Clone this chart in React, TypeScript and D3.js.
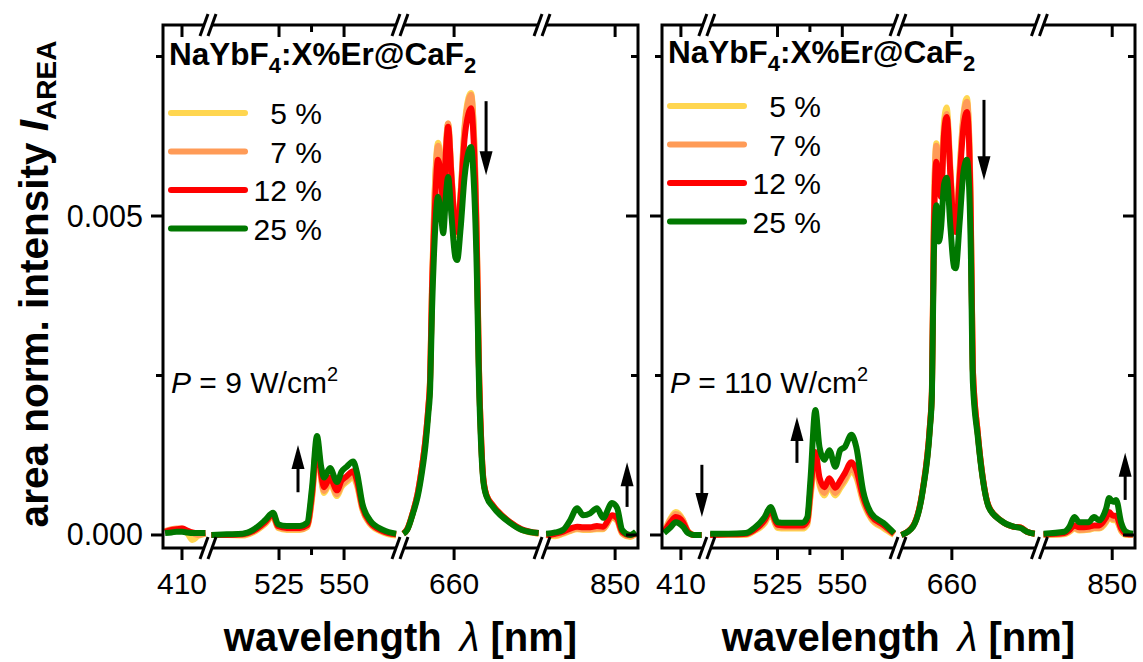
import React from "react";
import * as d3 from "d3";

// ---------- axis definitions ----------
const SEG_BOUNDS: [number, number][] = [
  [402.7, 420],
  [497.7, 571.5],
  [639.2, 693.8],
  [821.9, 858.8],
];
const X_TICKS = [410, 525, 550, 660, 850];
const X_MINOR = [537.5];
const Y_TICKS = [0, 0.005];
const Y_TICK_LABELS = ["0.000", "0.005"];
const Y_MINOR = [0.0025, 0.0075];
const Y_DOMAIN: [number, number] = [-0.000204, 0.007994];

const SERIES_LABELS = ["5 %", "7 %", "12 %", "25 %"];
const SERIES_COLORS = ["#FFD650", "#FF9B57", "#FF0000", "#007800"];

// ---------- P = 9 W/cm2 (values in 1e-3) ----------
const WL_P9 = [
  403.5, 406, 408, 410, 412, 414, 416, 419,
  499, 505, 511, 515, 519.6, 522.7, 524.6, 528, 533, 535.8, 537.7, 539.6, 541.2, 542.3, 544.6, 547.3, 549, 551, 553.5, 555, 557, 560, 565, 570,
  640.5, 642, 644.2, 646, 647.6, 649, 650.1, 650.8, 651.5, 652.5, 653.8, 655, 655.8, 657, 657.7, 659, 660.5, 661.2, 662.5, 664, 665.5, 666.5, 667.5, 668.8, 669.5, 670.5, 671.2, 672.5, 675, 681.5, 686, 692.5,
  823.5, 827, 830, 832.7, 835.4, 837.7, 840.4, 843, 845.4, 848.8, 850.8, 852.7, 855.8, 858,
];
const P9_5 = [
  0.06, 0.08, 0.09, 0.08, 0.03, -0.08, -0.02, 0.02,
  0.0, 0.0, -0.01, 0.04, 0.17, 0.29, 0.11, 0.08, 0.08, 0.12, 0.57, 1.4, 0.87, 0.66, 0.81, 0.61, 0.75, 0.83, 0.9, 0.77, 0.4, 0.17, 0.04, -0.01,
  0.02, 0.09, 0.36, 0.65, 1.05, 1.5, 2.0, 2.5, 3.9, 5.35, 6.15, 5.8, 5.3, 6.2, 6.45, 5.65, 4.8, 4.7, 5.35, 6.4, 6.85, 6.93, 6.45, 4.5, 2.75, 1.4, 0.9, 0.62, 0.46, 0.2, 0.08, 0.02,
  0.0, -0.02, 0.02, 0.06, 0.09, 0.08, 0.08, 0.09, 0.09, 0.27, 0.22, 0.02, -0.03, 0.02,
];
const P9_7 = [
  0.06, 0.09, 0.1, 0.1, 0.06, 0.03, 0.0, 0.02,
  0.0, 0.0, 0.0, 0.05, 0.18, 0.3, 0.12, 0.09, 0.09, 0.13, 0.6, 1.42, 0.9, 0.69, 0.84, 0.64, 0.78, 0.86, 0.94, 0.8, 0.42, 0.18, 0.05, 0.0,
  0.02, 0.09, 0.36, 0.65, 1.05, 1.5, 2.0, 2.5, 3.9, 5.3, 6.1, 5.75, 5.3, 6.2, 6.45, 5.65, 4.8, 4.7, 5.35, 6.35, 6.8, 6.9, 6.4, 4.5, 2.75, 1.4, 0.9, 0.62, 0.46, 0.2, 0.08, 0.02,
  0.0, 0.0, 0.03, 0.07, 0.1, 0.09, 0.09, 0.1, 0.1, 0.28, 0.23, 0.03, -0.02, 0.02,
];
const P9_12 = [
  0.05, 0.08, 0.09, 0.1, 0.07, 0.04, 0.03, 0.03,
  0.0, 0.0, 0.01, 0.06, 0.2, 0.32, 0.14, 0.11, 0.11, 0.15, 0.65, 1.45, 0.95, 0.75, 0.9, 0.7, 0.85, 0.92, 1.0, 0.85, 0.45, 0.2, 0.06, 0.01,
  0.02, 0.09, 0.36, 0.65, 1.05, 1.5, 2.0, 2.45, 3.8, 5.0, 5.88, 5.6, 5.2, 6.1, 6.4, 5.6, 4.8, 4.75, 5.3, 6.2, 6.6, 6.69, 6.2, 4.4, 2.7, 1.4, 0.9, 0.62, 0.46, 0.2, 0.09, 0.03,
  0.0, 0.02, 0.05, 0.1, 0.13, 0.12, 0.12, 0.14, 0.13, 0.31, 0.26, 0.05, 0.0, 0.03,
];
const P9_25 = [
  0.03, 0.04, 0.05, 0.05, 0.04, 0.03, 0.03, 0.03,
  0.0, 0.01, 0.02, 0.08, 0.23, 0.35, 0.17, 0.14, 0.14, 0.19, 0.75, 1.55, 1.07, 0.9, 1.05, 0.83, 0.99, 1.07, 1.15, 0.97, 0.5, 0.23, 0.08, 0.02,
  0.02, 0.08, 0.34, 0.6, 0.97, 1.4, 1.9, 2.3, 3.5, 4.6, 5.3, 5.0, 4.73, 5.4, 5.61, 5.0, 4.35, 4.31, 4.8, 5.6, 6.0, 6.08, 5.6, 4.0, 2.5, 1.3, 0.86, 0.6, 0.44, 0.19, 0.08, 0.03,
  0.02, 0.04, 0.08, 0.23, 0.42, 0.31, 0.34, 0.42, 0.27, 0.5, 0.42, 0.08, 0.0, 0.05,
];

// ---------- P = 110 W/cm2 (values in 1e-3) ----------
const WL_P110 = [
  403.5, 406, 408, 410.8, 412.7, 415, 418,
  499, 506, 512.7, 516, 520, 522.3, 525, 528, 534.6, 536.5, 537.7, 539.6, 541.2, 543.1, 545, 547.3, 549.2, 551, 553.5, 555.4, 558, 561.2, 565.8, 570,
  640.5, 645, 648.8, 651.5, 652.3, 653, 654, 655, 655.8, 657, 658, 659.5, 660.8, 661.5, 663, 664.5, 665.8, 666.5, 667.3, 668.1, 670, 672, 674.2, 678.8, 683.8, 686.5, 689, 692,
  823.5, 831.5, 833.5, 835.4, 837.3, 840.8, 843, 845, 847.7, 848.8, 850.4, 851.5, 853.5, 855.4, 858,
];
const P110_5 = [
  0.05, 0.26, 0.36, 0.24, 0.06, 0.0, 0.0,
  0.0, 0.0, 0.0, 0.06, 0.18, 0.33, 0.11, 0.1, 0.1, 0.16, 0.58, 1.15, 0.78, 0.62, 0.76, 0.62, 0.73, 0.84, 1.0, 0.9, 0.52, 0.25, 0.11, 0.0,
  0.0, 0.14, 0.72, 1.7, 2.25, 4.85, 6.14, 5.75, 5.5, 6.5, 6.7, 5.7, 4.8, 4.75, 5.75, 6.6, 6.85, 6.5, 5.15, 2.6, 1.6, 0.88, 0.45, 0.23, 0.13, 0.12, 0.05, 0.02,
  0.0, 0.01, 0.05, 0.1, 0.07, 0.08, 0.1, 0.1, 0.2, 0.28, 0.23, 0.23, 0.06, 0.0, 0.0,
];
const P110_7 = [
  0.05, 0.24, 0.33, 0.23, 0.06, 0.0, 0.0,
  0.0, 0.0, 0.01, 0.07, 0.2, 0.35, 0.13, 0.12, 0.12, 0.18, 0.62, 1.2, 0.82, 0.66, 0.8, 0.66, 0.77, 0.88, 1.05, 0.94, 0.55, 0.27, 0.13, 0.01,
  0.0, 0.14, 0.72, 1.7, 2.25, 4.8, 6.1, 5.7, 5.45, 6.35, 6.6, 5.65, 4.8, 4.75, 5.7, 6.55, 6.79, 6.45, 5.1, 2.6, 1.6, 0.88, 0.45, 0.23, 0.13, 0.12, 0.05, 0.02,
  0.0, 0.02, 0.06, 0.11, 0.08, 0.09, 0.11, 0.11, 0.22, 0.3, 0.25, 0.25, 0.07, 0.01, 0.0,
];
const P110_12 = [
  0.04, 0.2, 0.28, 0.2, 0.05, 0.0, 0.0,
  0.0, 0.01, 0.02, 0.08, 0.23, 0.38, 0.16, 0.15, 0.15, 0.22, 0.7, 1.3, 0.9, 0.75, 0.89, 0.74, 0.85, 0.97, 1.14, 1.02, 0.6, 0.3, 0.16, 0.02,
  0.0, 0.14, 0.72, 1.7, 2.25, 4.6, 5.85, 5.5, 5.3, 6.3, 6.55, 5.6, 4.8, 4.75, 5.6, 6.4, 6.63, 6.3, 5.0, 2.6, 1.6, 0.88, 0.45, 0.23, 0.13, 0.12, 0.05, 0.02,
  0.01, 0.03, 0.08, 0.15, 0.12, 0.13, 0.15, 0.15, 0.28, 0.36, 0.3, 0.3, 0.1, 0.02, 0.01,
];
const P110_25 = [
  0.03, 0.12, 0.2, 0.13, 0.03, 0.0, 0.0,
  0.02, 0.02, 0.03, 0.11, 0.28, 0.44, 0.2, 0.19, 0.19, 0.28, 0.86, 1.96, 1.38, 1.18, 1.33, 1.07, 1.33, 1.38, 1.57, 1.38, 0.7, 0.34, 0.19, 0.03,
  0.0, 0.13, 0.7, 1.65, 2.2, 4.3, 5.17, 4.6, 4.8, 5.5, 5.6, 4.8, 4.2, 4.18, 4.9, 5.7, 5.88, 5.6, 4.5, 2.4, 1.54, 0.86, 0.44, 0.23, 0.13, 0.11, 0.05, 0.02,
  0.02, 0.05, 0.13, 0.28, 0.2, 0.2, 0.28, 0.23, 0.42, 0.58, 0.52, 0.55, 0.19, 0.05, 0.02,
];

// arrows: wavelength, start value, tip value (1e-3)
const ARROWS_P9 = [
  { wl: 672.3, from: 6.8, to: 5.64 },
  { wl: 532.3, from: 0.67, to: 1.41 },
  { wl: 854.6, from: 0.44, to: 1.14 },
];
const ARROWS_P110 = [
  { wl: 672.4, from: 6.82, to: 5.56 },
  { wl: 532.5, from: 1.13, to: 1.85 },
  { wl: 418.1, from: 1.1, to: 0.28 },
  { wl: 855, from: 0.55, to: 1.29 },
];

const FONT = "'Liberation Sans', Arial, Helvetica, sans-serif";

const yScale = d3.scaleLinear().domain(Y_DOMAIN).range([548, 25]);

function makeX(x0: number, width: number) {
  const total = d3.sum(SEG_BOUNDS, (s) => s[1] - s[0]);
  const k = width / total;
  const domain: number[] = [];
  const range: number[] = [];
  let cur = x0;
  SEG_BOUNDS.forEach(([a, b]) => {
    domain.push(a, b);
    range.push(cur, cur + (b - a) * k);
    cur += (b - a) * k;
  });
  return d3.scaleLinear().domain(domain).range(range);
}

type PanelProps = {
  x0: number;
  width: number;
  wl: number[];
  series: number[][];
  headerY: number;
  legendY: number;
  power: string;
  arrows: { wl: number; from: number; to: number }[];
  showYLabels: boolean;
};

function BreakMark({ bx, y }: { bx: number; y: number }) {
  return (
    <g>
      <rect x={bx - 3.5} y={y - 3} width={7} height={6} fill="#fff" />
      {[-4, 4].map((o) => (
        <line
          key={o}
          x1={bx + o - 4}
          y1={y + 11}
          x2={bx + o + 4}
          y2={y - 11}
          stroke="#000"
          strokeWidth={3}
        />
      ))}
    </g>
  );
}

function Panel(p: PanelProps) {
  const x = makeX(p.x0, p.width);
  const y = yScale;
  const left = p.x0;
  const right = p.x0 + p.width;
  const top = y.range()[1];
  const bottom = y.range()[0];
  const line = d3
    .line<[number, number]>()
    .x((d) => x(d[0]))
    .y((d) => y(d[1] / 1000))
    .curve(d3.curveMonotoneX);

  const breaks = SEG_BOUNDS.slice(0, -1).map((s) => x(s[1]));

  return (
    <g>
      {/* data */}
      {p.series.map((vals, si) => (
        <g key={si}>
          {SEG_BOUNDS.map(([a, b], gi) => {
            const pts: [number, number][] = p.wl
              .map((w, i) => [w, vals[i]] as [number, number])
              .filter((d) => d[0] >= a && d[0] <= b);
            return (
              <path
                key={gi}
                d={line(pts) || ""}
                fill="none"
                stroke={SERIES_COLORS[si]}
                strokeWidth={6}
                strokeLinejoin="round"
              />
            );
          })}
        </g>
      ))}

      {/* frame */}
      <rect
        x={left}
        y={top}
        width={right - left}
        height={bottom - top}
        fill="none"
        stroke="#000"
        strokeWidth={3}
      />

      {/* x ticks */}
      {X_TICKS.map((t) => (
        <g key={t}>
          <line x1={x(t)} x2={x(t)} y1={bottom} y2={bottom + 12} stroke="#000" strokeWidth={3} />
          <line x1={x(t)} x2={x(t)} y1={top} y2={top + 12} stroke="#000" strokeWidth={3} />
          <text
            x={x(t)}
            y={594}
            textAnchor="middle"
            fontFamily={FONT}
            fontSize={30}
          >
            {t}
          </text>
        </g>
      ))}
      {X_MINOR.map((t) => (
        <g key={t}>
          <line x1={x(t)} x2={x(t)} y1={bottom} y2={bottom + 7} stroke="#000" strokeWidth={3} />
          <line x1={x(t)} x2={x(t)} y1={top} y2={top + 7} stroke="#000" strokeWidth={3} />
        </g>
      ))}

      {/* y ticks */}
      {Y_TICKS.map((t, i) => (
        <g key={t}>
          <line x1={left - 12} x2={left} y1={y(t)} y2={y(t)} stroke="#000" strokeWidth={3} />
          <line x1={right - 12} x2={right} y1={y(t)} y2={y(t)} stroke="#000" strokeWidth={3} />
          {p.showYLabels && (
            <text
              x={left - 20}
              y={y(t) + 10.5}
              textAnchor="end"
              fontFamily={FONT}
              fontSize={30.5}
            >
              {Y_TICK_LABELS[i]}
            </text>
          )}
        </g>
      ))}
      {Y_MINOR.map((t) => (
        <g key={t}>
          <line x1={left - 7} x2={left} y1={y(t)} y2={y(t)} stroke="#000" strokeWidth={3} />
          <line x1={right - 7} x2={right} y1={y(t)} y2={y(t)} stroke="#000" strokeWidth={3} />
        </g>
      ))}

      {/* axis breaks */}
      {breaks.map((bx, i) => (
        <g key={i}>
          <BreakMark bx={bx} y={top} />
          <BreakMark bx={bx} y={bottom} />
        </g>
      ))}

      {/* header */}
      <text x={left + 6} y={p.headerY} fontFamily={FONT} fontSize={31.5} fontWeight="bold">
        NaYbF
        <tspan fontSize={22} dy={8}>4</tspan>
        <tspan dy={-8}>:X%Er@CaF</tspan>
        <tspan fontSize={22} dy={8}>2</tspan>
      </text>

      {/* legend */}
      {SERIES_LABELS.map((lab, i) => {
        const ly = p.legendY + i * 38.5;
        return (
          <g key={lab}>
            <line
              x1={left + 8}
              x2={left + 82}
              y1={ly}
              y2={ly}
              stroke={SERIES_COLORS[i]}
              strokeWidth={6}
              strokeLinecap="round"
            />
            <text
              x={left + 159}
              y={ly + 11}
              textAnchor="end"
              fontFamily={FONT}
              fontSize={30}
            >
              {lab}
            </text>
          </g>
        );
      })}

      {/* power label */}
      <text x={left + 8} y={393} fontFamily={FONT} fontSize={30}>
        <tspan fontStyle="italic">P</tspan>
        {" = " + p.power + " W/cm"}
        <tspan fontSize={20} dy={-12}>2</tspan>
      </text>

      {/* arrows */}
      {p.arrows.map((a, i) => {
        const ax = x(a.wl);
        const y1 = y(a.from / 1000);
        const y2 = y(a.to / 1000);
        const dir = y2 > y1 ? 1 : -1;
        const headLen = 24;
        const base = y2 - dir * headLen;
        return (
          <g key={i}>
            <line x1={ax} x2={ax} y1={y1} y2={base + dir * 2} stroke="#000" strokeWidth={3} />
            <polygon
              points={`${ax - 6.5},${base} ${ax + 6.5},${base} ${ax},${y2}`}
              fill="#000"
            />
          </g>
        );
      })}

      {/* x title */}
      <text
        x={(left + right) / 2}
        y={651}
        textAnchor="middle"
        fontFamily={FONT}
        fontSize={40}
        fontWeight="bold"
      >
        wavelength
        <tspan dx={18} fontStyle="italic" fontWeight="normal">λ</tspan>
        <tspan> [nm]</tspan>
      </text>
    </g>
  );
}

export default function App() {
  return (
    <svg
      width={1143}
      height={662}
      style={{ position: "absolute", left: 0, top: 0, background: "#fff" }}
    >
      <rect width={1143} height={662} fill="#fff" />
      <text
        transform="translate(48,284) rotate(-90)"
        textAnchor="middle"
        fontFamily={FONT}
        fontSize={40.5}
        fontWeight="bold"
      >
        area norm. intensity{" "}
        <tspan fontStyle="italic">I</tspan>
        <tspan fontSize={28} dy={8}>AREA</tspan>
      </text>
      <Panel
        x0={163}
        width={475}
        wl={WL_P9}
        series={[P9_5, P9_7, P9_12, P9_25]}
        headerY={65}
        legendY={113}
        power="9"
        arrows={ARROWS_P9}
        showYLabels={true}
      />
      <Panel
        x0={662}
        width={473}
        wl={WL_P110}
        series={[P110_5, P110_7, P110_12, P110_25]}
        headerY={63}
        legendY={106}
        power="110"
        arrows={ARROWS_P110}
        showYLabels={false}
      />
    </svg>
  );
}
